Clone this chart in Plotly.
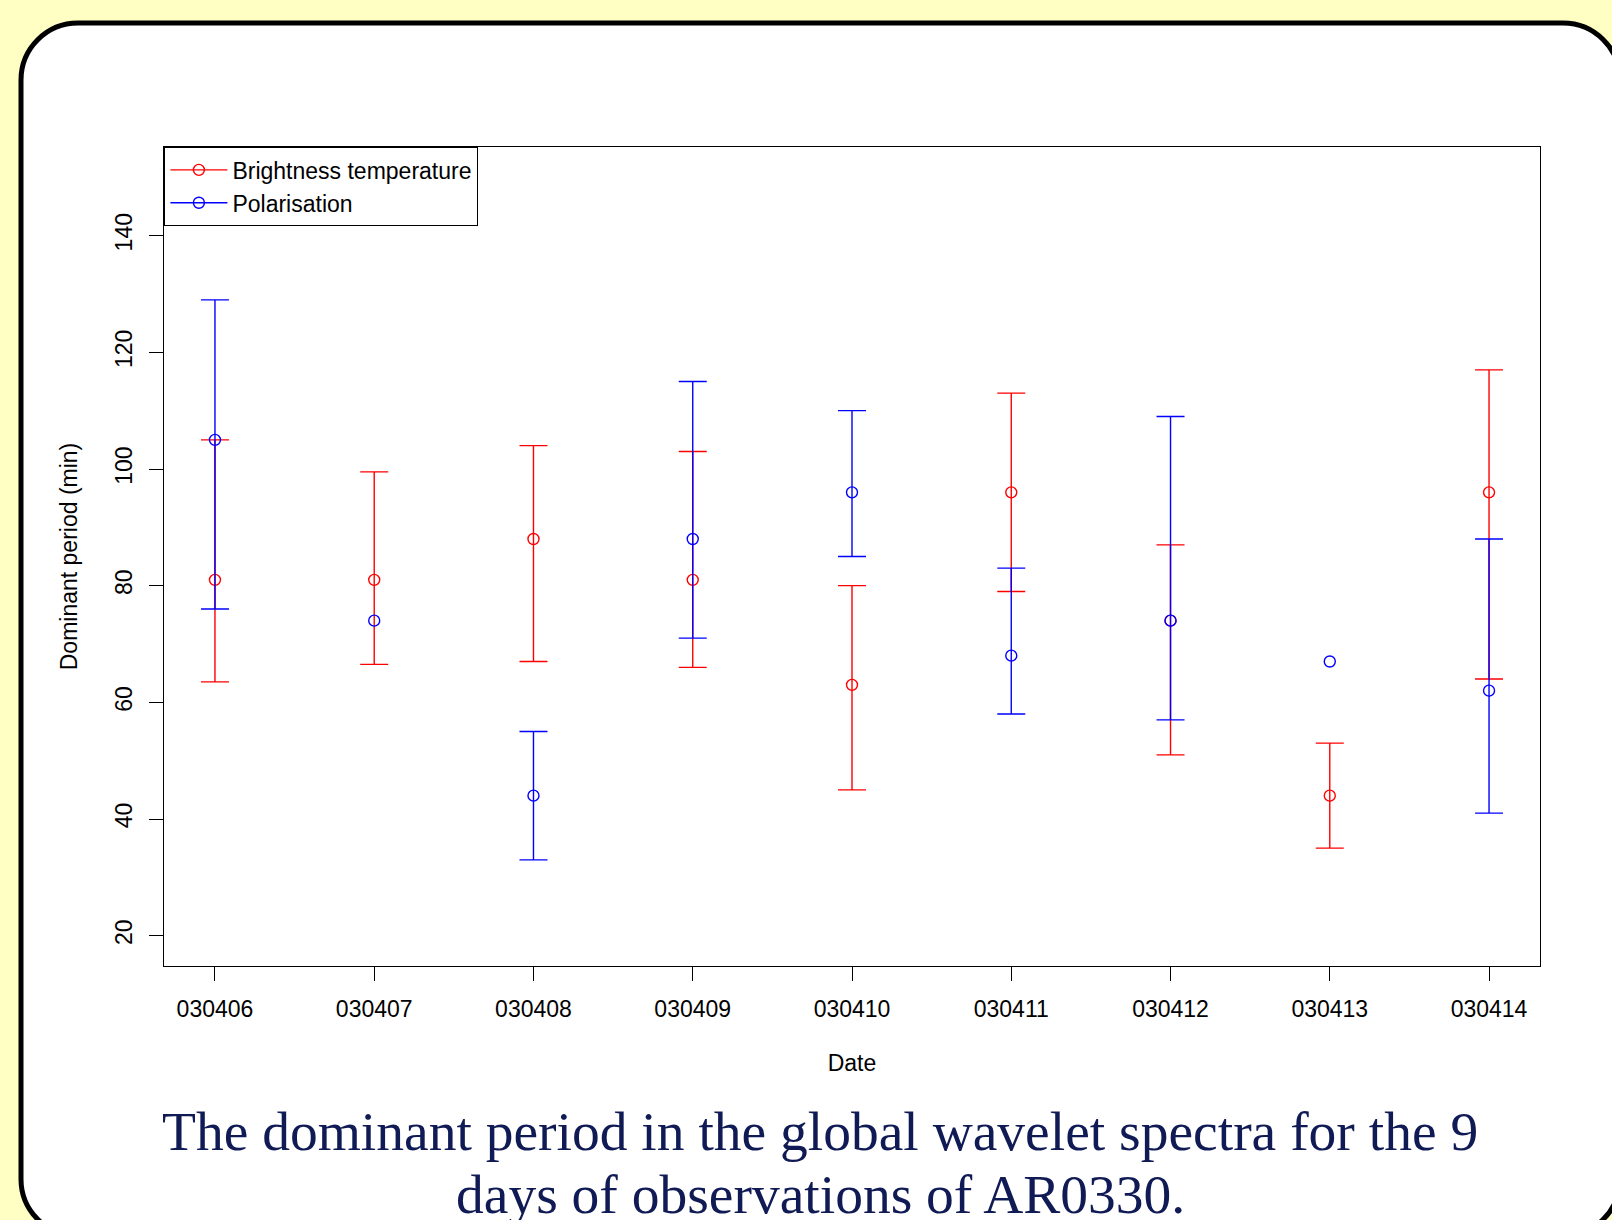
import plotly.graph_objects as go

# ---- data ----
dates = ["030406", "030407", "030408", "030409", "030410", "030411", "030412", "030413", "030414"]
bt_period = [81, 81, 88, 81, 63, 96, 74, 44, 96]
bt_upper = [105, 99.5, 104, 103, 80, 113, 87, 53, 117]
bt_lower = [63.5, 66.5, 67, 66, 45, 79, 51, 35, 64]
pol_period = [105, 74, 44, 88, 96, 68, 74, 67, 62]
pol_upper = [129, None, 55, 115, 110, 83, 109, None, 88]
pol_lower = [76, None, 33, 71, 85, 58, 57, None, 41]
yticks = [20, 40, 60, 80, 100, 120, 140]
caption_lines = ["The dominant period in the global wavelet spectra for the 9",
                 "days of observations of AR0330."]

RED = "#FF0000"
BLUE = "#0000FF"
FONT = "Liberation Sans, Arial, sans-serif"

# page geometry
W, H = 1612, 1220
L, R, T, B = 164, 1540, 147, 966


def px_x(p):
    return (p - L) / (R - L)


def px_y(p):
    return (B - p) / (B - T)


xs = list(range(1, len(dates) + 1))


def err(vals, up, lo):
    plus = [(u - v) if u is not None else 0 for v, u in zip(vals, up)]
    minus = [(v - l) if l is not None else 0 for v, l in zip(vals, lo)]
    vis = [u is not None for u in up]
    return plus, minus, vis


fig = go.Figure()


def add_series(name, vals, up, lo, color):
    plus, minus, vis = err(vals, up, lo)
    xe = [x for x, v in zip(xs, vis) if v]
    ye = [y for y, v in zip(vals, vis) if v]
    pe = [p for p, v in zip(plus, vis) if v]
    me = [m for m, v in zip(minus, vis) if v]
    fig.add_trace(go.Scatter(
        x=xe, y=ye, mode="markers", showlegend=False, hoverinfo="skip",
        marker=dict(size=0.1, color="rgba(0,0,0,0)"),
        error_y=dict(type="data", array=pe, arrayminus=me, symmetric=False,
                     color=color, thickness=1.4, width=14),
    ))
    fig.add_trace(go.Scatter(
        x=xs, y=vals, mode="markers", name=name, showlegend=False,
        marker=dict(symbol="circle-open", size=11, color=color,
                    line=dict(width=1.4, color=color)),
    ))
    fig.add_trace(go.Scatter(
        x=[None], y=[None], mode="lines+markers", name=name, showlegend=True,
        line=dict(color=color, width=1.4),
        marker=dict(symbol="circle-open", size=11, color=color,
                    line=dict(width=1.4, color=color)),
    ))


add_series("Brightness temperature", bt_period, bt_upper, bt_lower, RED)
add_series("Polarisation", pol_period, pol_upper, pol_lower, BLUE)

# rounded white panel with black border
x0, x1, y0, y1, r = 21, 1620, 23, 1236, 57
k = 0.5523 * r


def P(x, y):
    return f"{px_x(x):.6f},{px_y(y):.6f}"


path = (
    f"M {P(x0 + r, y0)} L {P(x1 - r, y0)} "
    f"C {P(x1 - r + k, y0)} {P(x1, y0 + r - k)} {P(x1, y0 + r)} "
    f"L {P(x1, y1 - r)} "
    f"C {P(x1, y1 - r + k)} {P(x1 - r + k, y1)} {P(x1 - r, y1)} "
    f"L {P(x0 + r, y1)} "
    f"C {P(x0 + r - k, y1)} {P(x0, y1 - r + k)} {P(x0, y1 - r)} "
    f"L {P(x0, y0 + r)} "
    f"C {P(x0, y0 + r - k)} {P(x0 + r - k, y0)} {P(x0 + r, y0)} Z"
)
fig.add_shape(type="path", xref="paper", yref="paper", path=path,
              fillcolor="white", line=dict(color="black", width=5), layer="below")

# caption
for i, (txt, yc) in enumerate(zip(caption_lines, [1131, 1194])):
    fig.add_annotation(
        x=px_x(820), y=px_y(yc), xref="paper", yref="paper",
        text=txt, showarrow=False, xanchor="center", yanchor="middle",
        font=dict(family="Liberation Serif, Times New Roman, serif", size=55.5, color="#101a55"),
    )

axis_common = dict(
    showline=True, mirror=True, linecolor="black", linewidth=1.4,
    ticks="outside", ticklen=14, tickwidth=1.4, tickcolor="black",
    showgrid=False, zeroline=False,
    tickfont=dict(family=FONT, size=23, color="black"),
)

fig.update_layout(
    width=W, height=H, autosize=False,
    margin=dict(l=L, r=W - R, t=T, b=H - B, pad=0),
    paper_bgcolor="#FFFFC4", plot_bgcolor="rgba(0,0,0,0)",
    font=dict(family=FONT, size=23, color="black"),
    xaxis=dict(
        range=[0.68, 9.32], tickvals=xs, ticktext=dates,
        title=dict(text="Date", font=dict(family=FONT, size=23), standoff=34),
        ticklabelstandoff=8,
        **axis_common,
    ),
    yaxis=dict(
        range=[14.8, 155.2], tickvals=yticks, tickangle=-90,
        title=dict(text="Dominant period (min)", font=dict(family=FONT, size=23), standoff=26),
        ticklabelstandoff=8,
        **axis_common,
    ),
    legend=dict(
        x=0, y=1, xanchor="left", yanchor="top", xref="paper", yref="paper",
        bgcolor="white", bordercolor="black", borderwidth=1.4,
        font=dict(family=FONT, size=23, color="black"),
        itemwidth=57, tracegroupgap=0,
    ),
    showlegend=True,
)

fig.write_html("out.html")
